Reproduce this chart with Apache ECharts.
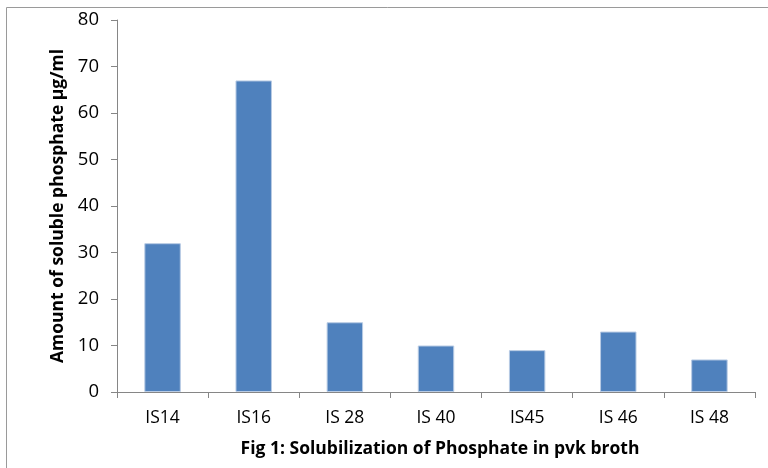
<!DOCTYPE html>
<html lang="en">
<head>
  <meta charset="UTF-8">
  <title>Phosphate</title>
  <style>body{margin:0;background:#fff}</style>
</head>
<body>
<div id="main" style="width: 768px;height:468px;"></div>
<script src="https://cdn.jsdelivr.net/npm/echarts@6/dist/echarts.min.js"></script>
<script type="text/javascript">
  const categories = ['IS14', 'IS16', 'IS 28', 'IS 40', 'IS45', 'IS 46', 'IS 48']
  const values = [32, 67, 15, 10, 9, 13, 7]
  const yTicks = [0, 10, 20, 30, 40, 50, 60, 70, 80]

  const Chart = echarts.init(document.getElementById('main'));
  const font = '"Open Sans", "Liberation Sans", sans-serif'

  const option = {
    animation: false,
    title: {
      text: 'Fig 1: Solubilization of Phosphate in pvk broth',
      left: 435,
      textAlign: 'center',
      top: 435,
      textStyle: {fontFamily: font, fontSize: 17.5, fontWeight: 'bold', color: '#000'}
    },
    graphic: [
      {
        type: 'rect',
        shape: {x: 6.5, y: 7.5, width: 800, height: 500},
        style: {fill: 'none', stroke: '#9a9a9a', lineWidth: 1},
        silent: true
      }
    ],
    grid: {left: 117, right: 13, top: 20, bottom: 76},
    xAxis: {
      type: 'category',
      data: categories,
      axisLine: {lineStyle: {color: '#868686'}},
      axisTick: {show: true, length: 6, lineStyle: {color: '#868686'}},
      axisLabel: {fontFamily: font, fontSize: 17.5, color: '#000', margin: 17}
    },
    yAxis: {
      type: 'value',
      min: yTicks[0],
      max: yTicks[yTicks.length - 1],
      interval: 10,
      name: 'Amount of soluble phosphate µg/ml',
      nameLocation: 'middle',
      nameGap: 49,
      nameTextStyle: {fontFamily: font, fontSize: 17.5, fontWeight: 'bold', color: '#000'},
      axisLine: {show: true, lineStyle: {color: '#868686'}},
      axisTick: {show: true, length: 6, lineStyle: {color: '#868686'}},
      splitLine: {show: false},
      axisLabel: {fontFamily: font, fontSize: 18.5, color: '#000', margin: 18}
    },
    series: [
      {
        type: 'bar',
        data: values,
        barWidth: '40%',
        itemStyle: {color: '#4F81BD', borderColor: '#b8cbe4', borderWidth: 1}
      }
    ]
  };

  Chart.setOption(option)
</script>
</body>
</html>
